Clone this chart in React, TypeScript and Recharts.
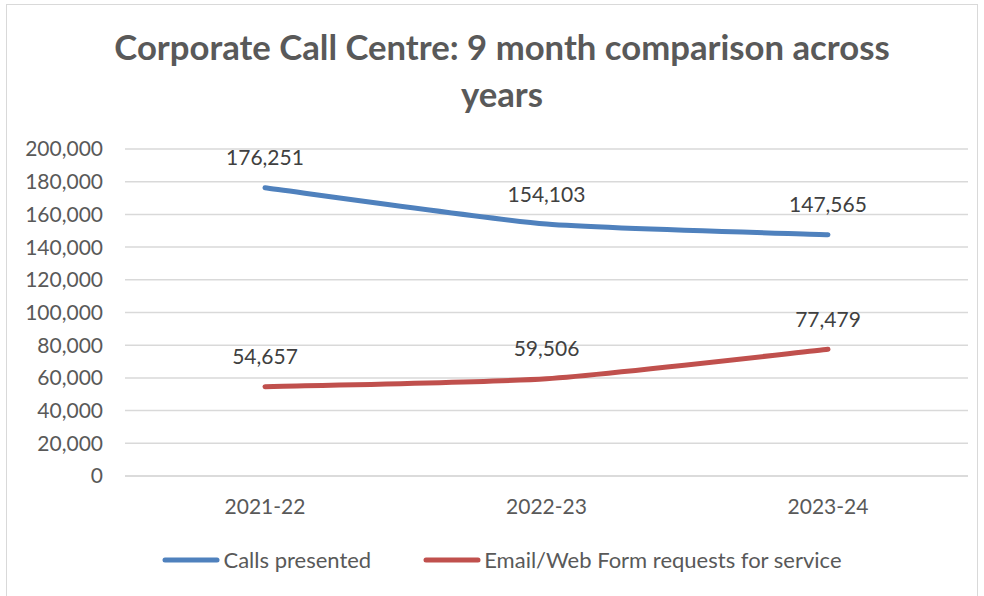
import { CartesianGrid, LabelList, Line, LineChart, XAxis, YAxis } from 'recharts';

const years = ['2021-22', '2022-23', '2023-24'];
const callsPresented = [176251, 154103, 147565];
const emailRequests = [54657, 59506, 77479];
const yTicks = [0, 20000, 40000, 60000, 80000, 100000, 120000, 140000, 160000, 180000, 200000];

const data = years.map((year, i) => ({
  year,
  calls: callsPresented[i],
  email: emailRequests[i],
}));

const FONT = 'Lato, "Open Sans", sans-serif';
const BLUE = '#4F81BD';
const RED = '#C0504D';

const fmt = (v: number) => v.toLocaleString('en-US');

// spreadsheet-style smoothed line (soft bezier through the points)
const smoothCurve = (ctx: any) => {
  let pts: number[][] = [];
  const k = 1 / 10;
  return {
    areaStart() {},
    areaEnd() {},
    lineStart() {
      pts = [];
    },
    point(x: number, y: number) {
      pts.push([+x, +y]);
    },
    lineEnd() {
      if (!pts.length) return;
      ctx.moveTo(pts[0][0], pts[0][1]);
      for (let i = 0; i < pts.length - 1; i++) {
        const p0 = pts[i - 1] || pts[i];
        const p1 = pts[i];
        const p2 = pts[i + 1];
        const p3 = pts[i + 2] || pts[i + 1];
        ctx.bezierCurveTo(
          p1[0] + (p2[0] - p0[0]) * k,
          p1[1] + (p2[1] - p0[1]) * k,
          p2[0] - (p3[0] - p1[0]) * k,
          p2[1] - (p3[1] - p1[1]) * k,
          p2[0],
          p2[1]
        );
      }
    },
  };
};

function PointLabel(props: any) {
  const { x, y, value } = props;
  return (
    <text x={x} y={y - 31} textAnchor="middle" dominantBaseline="central" fill="#404040" fontSize={21} fontFamily={FONT}>
      {fmt(value)}
    </text>
  );
}

const legendItems = [
  { label: 'Calls presented', color: BLUE },
  { label: 'Email/Web Form requests for service', color: RED },
];

export default function App() {
  return (
    <div style={{ position: 'absolute', left: 0, top: 0, width: 984, height: 596, background: '#fff', overflow: 'hidden' }}>
      <div style={{ position: 'absolute', left: 6, top: 4, width: 970, height: 620, border: '1.5px solid #D9D9D9' }} />
      <div
        style={{
          position: 'absolute',
          left: 20,
          top: 23,
          width: 964,
          textAlign: 'center',
          fontFamily: FONT,
          fontWeight: 700,
          fontSize: 34.7,
          lineHeight: '47px',
          color: '#595959',
        }}
      >
        Corporate Call Centre: 9 month comparison across
        <br />
        years
      </div>
      <div style={{ position: 'absolute', left: 0, top: 0 }}>
        <LineChart width={984} height={596} data={data} margin={{ top: 149, right: 16, bottom: 80, left: 0 }}>
          <CartesianGrid vertical={false} stroke="#D9D9D9" strokeWidth={1.5} />
          <XAxis
            dataKey="year"
            padding={{ left: 140, right: 140 }}
            axisLine={{ stroke: '#D9D9D9', strokeWidth: 1.5 }}
            tickLine={false}
            tickSize={0}
            tickMargin={23}
            tick={{ fill: '#595959', fontSize: 21, fontFamily: FONT }}
            height={40}
          />
          <YAxis
            width={125}
            domain={[0, 200000]}
            ticks={yTicks}
            interval={0}
            axisLine={false}
            tickLine={false}
            tickSize={0}
            tickMargin={22}
            tickFormatter={fmt}
            tick={{ fill: '#595959', fontSize: 21, fontFamily: FONT }}
          />
          <Line
            type={smoothCurve as any}
            dataKey="calls"
            name="Calls presented"
            stroke={BLUE}
            strokeWidth={5}
            strokeLinecap="round"
            dot={false}
            isAnimationActive={false}
          >
            <LabelList dataKey="calls" content={<PointLabel />} />
          </Line>
          <Line
            type={smoothCurve as any}
            dataKey="email"
            name="Email/Web Form requests for service"
            stroke={RED}
            strokeWidth={5}
            strokeLinecap="round"
            dot={false}
            isAnimationActive={false}
          >
            <LabelList dataKey="email" content={<PointLabel />} />
          </Line>
        </LineChart>
      </div>
      <div
        style={{
          position: 'absolute',
          left: 20,
          top: 546,
          width: 964,
          display: 'flex',
          justifyContent: 'center',
          gap: 52,
          fontFamily: FONT,
          fontSize: 22,
          lineHeight: '28px',
          color: '#595959',
        }}
      >
        {legendItems.map((it) => (
          <div key={it.label} style={{ display: 'flex', alignItems: 'center' }}>
            <svg width={58} height={10} style={{ marginRight: 3 }}>
              <line x1={3} y1={5} x2={55} y2={5} stroke={it.color} strokeWidth={5} strokeLinecap="round" />
            </svg>
            <span>{it.label}</span>
          </div>
        ))}
      </div>
    </div>
  );
}
